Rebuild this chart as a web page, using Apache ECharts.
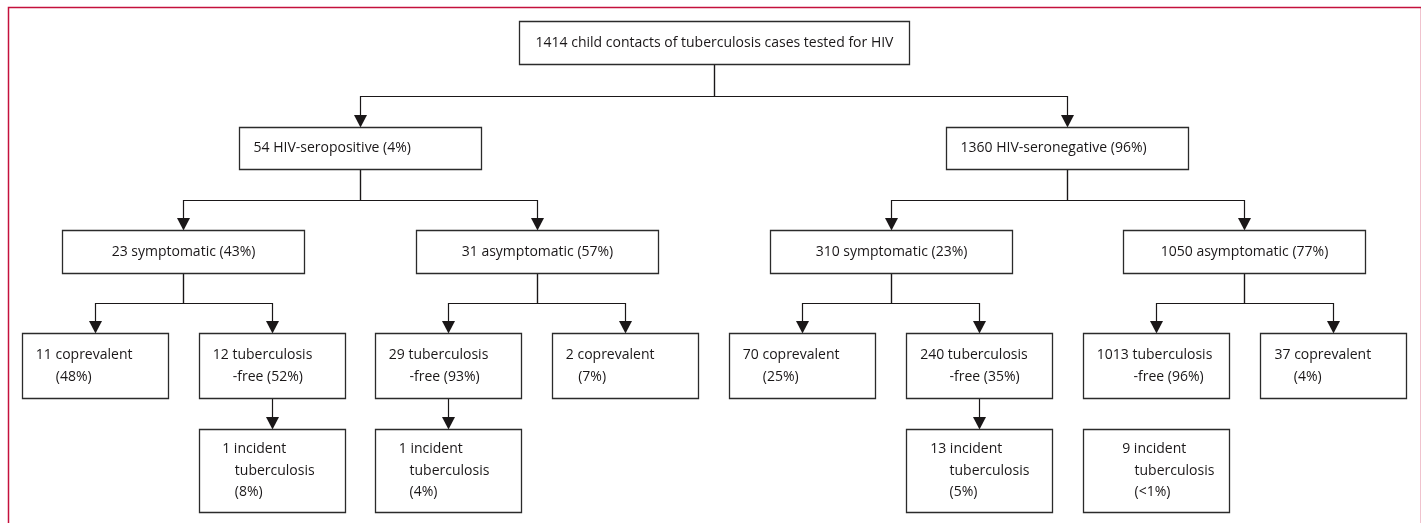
<!DOCTYPE html>
<html><head><meta charset="utf-8">
<script src="https://cdn.jsdelivr.net/npm/echarts@6/dist/echarts.min.js"></script>
<style>html,body{margin:0;padding:0;background:#fff}#c{width:1421px;height:523px}</style>
</head><body><div id="c"></div>
<script>
// ---------------- data ----------------
const nodeLines = [
  ['1414 child contacts of tuberculosis cases tested for HIV'],
  ['54 HIV-seropositive (4%)'],
  ['1360 HIV-seronegative (96%)'],
  ['23 symptomatic (43%)'],
  ['31 asymptomatic (57%)'],
  ['310 symptomatic (23%)'],
  ['1050 asymptomatic (77%)'],
  ['11 coprevalent', '(48%)'],
  ['12 tuberculosis', '-free (52%)'],
  ['29 tuberculosis', '-free (93%)'],
  ['2 coprevalent', '(7%)'],
  ['70 coprevalent', '(25%)'],
  ['240 tuberculosis', '-free (35%)'],
  ['1013 tuberculosis', '-free (96%)'],
  ['37 coprevalent', '(4%)'],
  ['1 incident', 'tuberculosis', '(8%)'],
  ['1 incident', 'tuberculosis', '(4%)'],
  ['13 incident', 'tuberculosis', '(5%)'],
  ['9 incident', 'tuberculosis', '(<1%)']
];
const nodeParent = [-1, 0, 0, 1, 1, 2, 2, 3, 3, 4, 4, 5, 5, 6, 6, 8, 9, 12, 13];
const nodeLevel  = [0, 1, 1, 2, 2, 2, 2, 3, 3, 3, 3, 3, 3, 3, 3, 4, 4, 4, 4];
const nodeLinked = [false, true, true, true, true, true, true, true, true, true, true, true, true, true, true, true, true, true, false];

// ---------------- layout / style ----------------
const ROW_TOP = [21, 127, 230, 333, 429];
const ROW_H   = [43, 42, 43, 65, 83];
const ROW_W   = [390, 242, 242, 146, 146];
const ROW_ALIGN = ['center', 'left', 'center', 'left', 'left'];
const LINE_GAP = [0, 0, 0, 22, 21.5];
const LINE_PAD = {
  1: [14], 2: [14],
  7: [13.3, 33.3], 8: [13.3, 33.3], 9: [13.3, 34], 10: [13.3, 25.7],
  11: [13.3, 33.3], 12: [13.7, 43], 13: [13.3, 50], 14: [14, 33.3],
  15: [22.7, 35.3, 35.3], 16: [23.3, 34, 34], 17: [23.7, 43, 43], 18: [38.7, 51, 51]
};
const INK = '#1a1718';
const FONT = '"Open Sans", sans-serif';
const FSIZE = 14;
const ARROW_W = 13, ARROW_H = 12;

// slots: leaves of level 3 are evenly spaced, parents centred over children
const slot = new Array(nodeLines.length).fill(null);
let k = 0;
nodeLevel.forEach((l, i) => { if (l === 3) slot[i] = k++; });
nodeLevel.forEach((l, i) => { if (l === 4) slot[i] = slot[nodeParent[i]]; });
for (let lv = 2; lv >= 0; lv--) {
  nodeLevel.forEach((l, i) => {
    if (l !== lv) return;
    const ch = nodeParent.map((p, j) => p === i ? slot[j] : null).filter(v => v !== null);
    slot[i] = ch.reduce((a, b) => a + b, 0) / ch.length;
  });
}

const nodeData = nodeLines.map((_, i) => [slot[i], ROW_TOP[nodeLevel[i]], i]);
const edgeData = [];
nodeLines.forEach((_, i) => {
  if (nodeParent[i] >= 0 && nodeLinked[i]) {
    const p = nodeParent[i];
    edgeData.push([slot[i], ROW_TOP[nodeLevel[i]], slot[p], ROW_TOP[nodeLevel[p]] + ROW_H[nodeLevel[p]], nodeLevel[i]]);
  }
});

const chart = echarts.init(document.getElementById('c'), null, { renderer: 'canvas' });

function renderNode(params, api) {
  const i = api.value(2);
  const lv = nodeLevel[i];
  const c = api.coord([api.value(0), api.value(1)]);
  const w = ROW_W[lv], h = ROW_H[lv];
  const x0 = Math.round(c[0] - w / 2) + 0.5, y0 = Math.round(c[1]) + 0.5;
  const children = [{
    type: 'rect',
    shape: { x: x0, y: y0, width: w, height: h },
    style: { fill: '#fff', stroke: '#2b2b2b', lineWidth: 1.3 }
  }];
  const lines = nodeLines[i];
  const n = lines.length;
  const gap = LINE_GAP[lv];
  lines.forEach((t, j) => {
    const cy = y0 + h / 2 + (j - (n - 1) / 2) * gap;
    let tx, align;
    if (ROW_ALIGN[lv] === 'center') { tx = x0 + w / 2; align = 'center'; }
    else { tx = x0 + LINE_PAD[i][j]; align = 'left'; }
    children.push({
      type: 'text',
      style: { text: t, x: tx, y: cy, align: align, verticalAlign: 'middle',
               fill: INK, font: FSIZE + 'px ' + FONT }
    });
  });
  return { type: 'group', children: children };
}

function renderEdge(params, api) {
  const child = api.coord([api.value(0), api.value(1)]);
  const par = api.coord([api.value(2), api.value(3)]);
  const lv = api.value(4);
  const cx = Math.round(child[0]) + 0.5, px = Math.round(par[0]) + 0.5;
  const ct = Math.round(child[1]), pb = Math.round(par[1]);
  const ls = { stroke: INK, lineWidth: 1.2, fill: null };
  const els = [];
  if (lv === 4) {
    els.push({ type: 'line', shape: { x1: cx, y1: pb, x2: cx, y2: ct - ARROW_H }, style: ls });
  } else {
    const bus = Math.round((pb + ct) / 2) + 0.5;
    els.push({ type: 'polyline', shape: { points: [[px, pb], [px, bus], [cx, bus], [cx, ct - ARROW_H]] }, style: ls });
  }
  els.push({ type: 'polygon', shape: { points: [[cx - ARROW_W / 2, ct - ARROW_H], [cx + ARROW_W / 2, ct - ARROW_H], [cx, ct + 0.5]] },
             style: { fill: INK } });
  return { type: 'group', children: els };
}

chart.setOption({
  animation: false,
  backgroundColor: '#fff',
  graphic: [{
    type: 'rect', left: 6, top: 5, silent: true,
    shape: { width: 1413, height: 560 },
    style: { fill: null, stroke: '#c4103c', lineWidth: 1.5 }
  }],
  grid: { left: 6.4, width: 1417.6, top: 0, height: 523 },
  xAxis: { type: 'value', min: -0.5, max: 7.5, show: false },
  yAxis: { type: 'value', min: 0, max: 523, inverse: true, show: false },
  series: [
    { type: 'custom', renderItem: renderEdge, data: edgeData, silent: true, z: 1 },
    { type: 'custom', renderItem: renderNode, data: nodeData, silent: true, z: 2 }
  ]
});
</script>
</body></html>
